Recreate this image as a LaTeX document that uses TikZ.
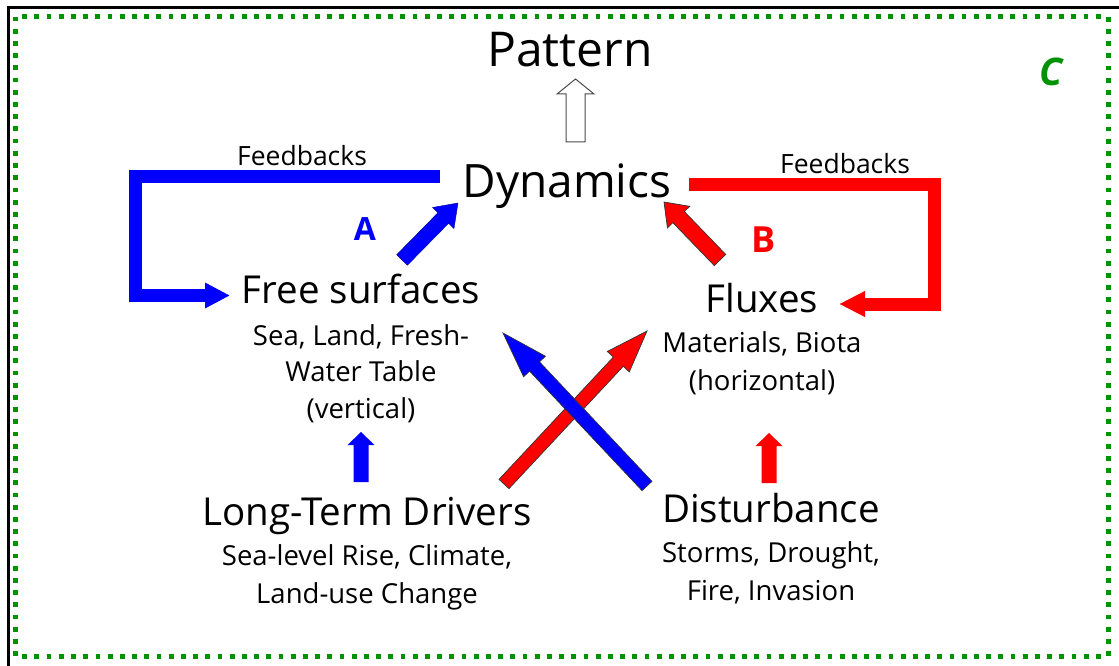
\documentclass[tikz,border=0pt]{standalone}
\usepackage{fontspec}
\setmainfont{Open Sans}
\usetikzlibrary{calc,arrows.meta}

\definecolor{fbblue}{RGB}{0,0,255}
\definecolor{fbred}{RGB}{255,0,0}
\definecolor{dotgreen}{RGB}{0,146,0}

% Block arrow drawn as a polygon: #1 style, #2 tail, #3 tip,
% #4 half shaft width, #5 half head width, #6 head length
\newcommand\blockarrow[6]{%
  \coordinate (#2-#3-h) at ($(#3)!#6!(#2)$);
  \path[#1] ($(#2)!#4!90:(#3)$) -- ($(#2-#3-h)!#4!90:(#3)$)
     -- ($(#2-#3-h)!#5!90:(#3)$) -- (#3)
     -- ($(#2-#3-h)!#5!-90:(#3)$) -- ($(#2-#3-h)!#4!-90:(#3)$)
     -- ($(#2)!#4!-90:(#3)$) -- cycle;
}

\begin{document}
\begin{tikzpicture}[x=1pt,y=-1pt,
  title/.style={anchor=base,inner sep=0pt,font=\fontsize{48}{56}\selectfont},
  dyn/.style={anchor=base,inner sep=0pt,font=\fontsize{46}{54}\selectfont},
  heading/.style={anchor=base,inner sep=0pt,font=\fontsize{38.5}{46}\selectfont},
  subtext/.style={anchor=base,inner sep=0pt,font=\fontsize{27.5}{33}\selectfont},
  fblabel/.style={anchor=base,inner sep=0pt,font=\fontsize{26.5}{32}\selectfont},
  feedback/.style={line width=13pt,miter limit=10},
  outlined/.style={draw=black!80,line width=0.7pt,line join=miter},
]
\useasboundingbox (0,0) rectangle (1119,666);
\fill[white] (0,0) rectangle (1119,666);

% outer frame and dotted panel border
\draw[black,line width=3pt] (8,667) -- (8,8) -- (1120,8);
\draw[dotgreen,line width=5pt,dash pattern=on 4.8pt off 7.4pt]
  (15,16.7) rectangle (1108,656);
\node[anchor=base,inner sep=0pt,text=dotgreen,
      font=\fontsize{38}{44}\selectfont\bfseries\itshape] (lblC) at (1051,86) {C};

% text
\node[title] (pattern) at (570,67) {Pattern};
\node[dyn] (dynamics) at (567,197) {Dynamics};
\node[heading] (free) at (361,303) {Free surfaces};
\node[subtext] (freeA) at (361,345) {Sea, Land, Fresh-};
\node[subtext] (freeB) at (361,381) {Water Table};
\node[subtext] (freeC) at (361,418) {(vertical)};
\node[heading] (fluxes) at (762,312) {Fluxes};
\node[subtext] (fluxA) at (762,352) {Materials, Biota};
\node[subtext] (fluxB) at (762,390) {(horizontal)};
\node[heading] (drivers) at (367,525) {Long-Term Drivers};
\node[subtext] (drivA) at (367,565) {Sea-level Rise, Climate,};
\node[subtext] (drivB) at (367,603) {Land-use Change};
\node[heading] (disturb) at (771,522) {Disturbance};
\node[subtext] (distA) at (771,562) {Storms, Drought,};
\node[subtext] (distB) at (771,600) {Fire, Invasion};
\node[fblabel] (fbL) at (302,165) {Feedbacks};
\node[fblabel] (fbR) at (845,173) {Feedbacks};
\node[anchor=base,inner sep=0pt,text=fbblue,font=\fontsize{32}{38}\selectfont\bfseries] (lblA) at (365,240) {A};
\node[anchor=base,inner sep=0pt,text=fbred,font=\fontsize{36}{42}\selectfont\bfseries] (lblB) at (764,252) {B};

% connector end points
\coordinate (patTail) at (575.5,142);
\coordinate (patTip) at (575.5,79);
\coordinate (aTail) at (402,260);
\coordinate (aTip) at (458,203);
\coordinate (bTail) at (720,260);
\coordinate (bTip) at (664,202);
\coordinate (redTail) at (504,484);
\coordinate (redTip) at (647,331);
\coordinate (blueTail) at (647,486);
\coordinate (blueTip) at (503,333);
\coordinate (upLTail) at (361,482);
\coordinate (upLTip) at (361,432);
\coordinate (upRTail) at (769,483);
\coordinate (upRTip) at (769,433);
\coordinate (fbLstart) at (440,176.5);
\coordinate (fbLa) at (135.5,176.5);
\coordinate (fbLb) at (135.5,295.5);
\coordinate (fbLend) at (230,295.5);
\coordinate (fbRstart) at (689,184);
\coordinate (fbRa) at (934.5,184);
\coordinate (fbRb) at (934.5,304);
\coordinate (fbRend) at (839,304);

% Dynamics -> Pattern
\blockarrow{draw=black!70,line width=1pt,fill=white}{patTail}{patTip}{9.5pt}{18.5pt}{15pt}
% Free surfaces -> Dynamics, Fluxes -> Dynamics
\blockarrow{fill=fbblue,draw=fbblue!60!black,line width=0.4pt}{aTail}{aTip}{7.5pt}{15pt}{21pt}
\blockarrow{fill=fbred,outlined}{bTail}{bTip}{8pt}{15.5pt}{21pt}
% Long-term drivers -> Fluxes, Disturbance -> Free surfaces
\blockarrow{fill=fbred,outlined}{redTail}{redTip}{6.8pt}{15pt}{42pt}
\blockarrow{fill=fbblue,outlined}{blueTail}{blueTip}{6.8pt}{15pt}{46pt}
% Long-term drivers -> Free surfaces, Disturbance -> Fluxes
\blockarrow{fill=fbblue}{upLTail}{upLTip}{7.5pt}{13.5pt}{13pt}
\blockarrow{fill=fbred}{upRTail}{upRTip}{7.5pt}{13.5pt}{13pt}

% feedback loops
\draw[feedback,fbblue,-{Triangle[length=25pt,width=24pt]}]
  (fbLstart) -- (fbLa) -- (fbLb) -- (fbLend);
\draw[feedback,fbred,-{Triangle[length=26pt,width=24pt]}]
  (fbRstart) -- (fbRa) -- (fbRb) -- (fbRend);
\end{tikzpicture}
\end{document}
